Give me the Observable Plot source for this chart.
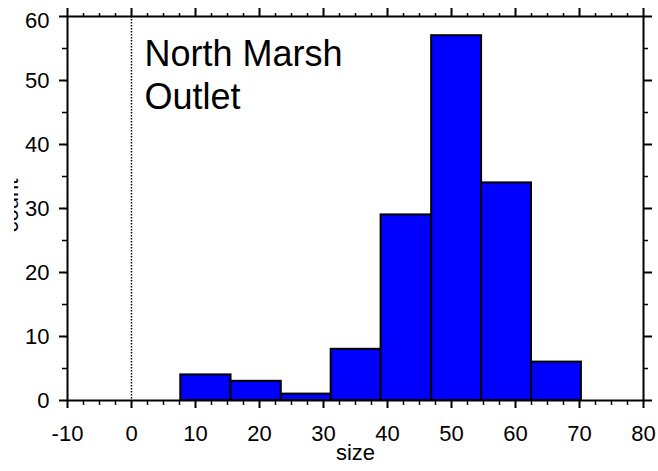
<!DOCTYPE html>
<html><head><meta charset="utf-8">
<script src="https://cdn.jsdelivr.net/npm/d3@7"></script>
<script src="https://cdn.jsdelivr.net/npm/@observablehq/plot@0.6"></script>
<style>body{margin:0;background:#fff} svg{display:block}</style>
</head><body><div id="chart"></div>
<script>
const binEdges = [7.7, 15.55, 23.4, 31.2, 39.0, 46.9, 54.7, 62.5, 70.3];
const counts = [4, 3, 1, 8, 29, 57, 34, 6];
const xMajorTicks = [-10, 0, 10, 20, 30, 40, 50, 60, 70, 80];
const xMinorTicks = [-7.5, -5, -2.5, 2.5, 5, 7.5, 12.5, 15, 17.5, 22.5, 25, 27.5, 32.5, 35, 37.5, 42.5, 45, 47.5, 52.5, 55, 57.5, 62.5, 65, 67.5, 72.5, 75, 77.5];
const yMajorTicks = [0, 10, 20, 30, 40, 50, 60];
const yMinorTicks = [5, 15, 25, 35, 45, 55];
const annotation = "North Marsh\nOutlet";
const xLabel = "size";
const yLabel = "count";

const bins = counts.map((c, i) => ({x1: binEdges[i], x2: binEdges[i + 1], count: c}));
const font = "'Liberation Sans', Arial, Helvetica, sans-serif";
const blank = () => "";
const plain = d => String(d);
const fs = 22;

const chart = Plot.plot({
  width: 658, height: 471,
  marginLeft: 67, marginRight: 15, marginTop: 16, marginBottom: 71,
  style: {fontFamily: font, background: "#fff", color: "#000", overflow: "visible"},
  x: {domain: [-10, 80]},
  y: {domain: [0, 60]},
  marks: [
    Plot.rectY(bins, {x1: "x1", x2: "x2", y: "count", fill: "#0000ff", stroke: "#000", strokeWidth: 2}),
    Plot.ruleX([0], {stroke: "#000", strokeDasharray: "1.5,1.5", strokeWidth: 1.5}),
    // bottom axis
    Plot.axisX({anchor: "bottom", ticks: xMajorTicks, tickSize: 8, tickPadding: 17, fontSize: fs, tickFormat: plain, strokeWidth: 2, label: null}),
    Plot.axisX({anchor: "bottom", ticks: xMinorTicks, tickSize: 5, tickFormat: blank, strokeWidth: 1.5, label: null}),
    // top axis
    Plot.axisX({anchor: "top", ticks: xMajorTicks, tickSize: 9, tickFormat: blank, strokeWidth: 2, label: null}),
    Plot.axisX({anchor: "top", ticks: xMinorTicks, tickSize: 4, tickFormat: blank, strokeWidth: 1.5, label: null}),
    // left axis
    Plot.axisY({anchor: "left", ticks: yMajorTicks, tickSize: 8, tickFormat: blank, strokeWidth: 2, label: null}),
    Plot.axisY({anchor: "left", ticks: yMinorTicks, tickSize: 5, tickFormat: blank, strokeWidth: 1.5, label: null}),
    Plot.axisY({anchor: "left", ticks: yMajorTicks.slice(0, -1), tickSize: 0, tickPadding: 18, fontSize: fs, tickFormat: plain, label: null}),
    Plot.axisY({anchor: "left", ticks: yMajorTicks.slice(-1), tickSize: 0, tickPadding: 18, fontSize: fs, tickFormat: plain, dy: 4, label: null}),
    // right axis
    Plot.axisY({anchor: "right", ticks: yMajorTicks, tickSize: 8, tickFormat: blank, strokeWidth: 2, label: null}),
    Plot.axisY({anchor: "right", ticks: yMinorTicks, tickSize: 4, tickFormat: blank, strokeWidth: 1.5, label: null}),
    Plot.frame({stroke: "#000", strokeWidth: 2}),
    Plot.text([annotation], {frameAnchor: "top-left", dx: 77, dy: 19, lineAnchor: "top", textAnchor: "start", fontSize: 36, lineHeight: 1.2, fill: "#000"}),
    Plot.text([xLabel], {frameAnchor: "bottom", dy: 59, fontSize: fs, fill: "#000"}),
    Plot.text([yLabel], {frameAnchor: "left", textAnchor: "middle", dx: -57, dy: -3, rotate: -90, fontSize: fs, fill: "#000"})
  ]
});

// clip the partially hidden y label as in the reference
const svgns = "http://www.w3.org/2000/svg";
const defs = document.createElementNS(svgns, "defs");
const cp = document.createElementNS(svgns, "clipPath");
cp.setAttribute("id", "ylabclip");
cp.setAttribute("clipPathUnits", "userSpaceOnUse");
const cr = document.createElementNS(svgns, "rect");
cr.setAttribute("x", 14); cr.setAttribute("y", 0); cr.setAttribute("width", 30); cr.setAttribute("height", 471);
cp.appendChild(cr); defs.appendChild(cp); chart.insertBefore(defs, chart.firstChild);
d3.select(chart).selectAll("text").filter(function() { return this.textContent === yLabel; }).each(function() {
  const markGroup = this.parentNode;
  const wrap = document.createElementNS(svgns, "g");
  markGroup.parentNode.insertBefore(wrap, markGroup);
  wrap.appendChild(markGroup);
  wrap.setAttribute("clip-path", "url(#ylabclip)");
});

document.getElementById("chart").appendChild(chart);
</script>
</body></html>
